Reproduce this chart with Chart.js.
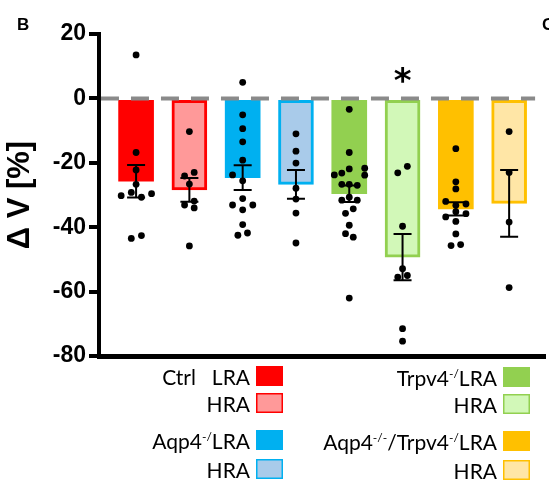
<!DOCTYPE html>
<html>
<head>
<meta charset="utf-8">
<script src="https://cdn.jsdelivr.net/npm/chart.js@4.4.1/dist/chart.umd.min.js"></script>
<style>
  body { margin: 0; background: #fff; }
  canvas { display: block; }
</style>
</head>
<body>
<canvas id="myChart" width="549" height="481"></canvas>
<script>
// groups, left to right
const groupNames = ["Ctrl LRA", "Ctrl HRA", "Aqp4-/- LRA", "Aqp4-/- HRA", "Trpv4-/- LRA", "Trpv4-/- HRA", "Aqp4-/-/Trpv4-/- LRA", "Aqp4-/-/Trpv4-/- HRA"];
const barMeans = [-25.7, -28.4, -24.6, -26.7, -29.6, -49.3, -34.3, -32.6];
const barSem = [5.05, 3.7, 3.85, 4.5, 2.55, 7.2, 2.05, 10.4];
const yTicks = [20, 0, -20, -40, -60, -80];

// individual points (ΔV %) and their sideways jitter (in category units)
const dotsCtrlLRA = [13.5, -16.8, -22.2, -26.7, -30.2, -29.2, -30.7, -29.6, -43.5, -42.6];
const jitCtrlLRA = [0, 0, 0, 0, -0.28, -0.09, 0.1, 0.29, -0.09, 0.1];
const dotsCtrlHRA = [-10.3, -24.1, -23.0, -26.6, -31.9, -33.1, -34.0, -45.8];
const jitCtrlHRA = [0, -0.09, 0.09, 0, 0.09, -0.09, 0.09, 0];
const dotsAqpLRA = [5.0, -5.1, -9.4, -13.5, -19.2, -23.75, -25.6, -31.1, -33.1, -33.1, -34.6, -39.2, -42.5, -41.8];
const jitAqpLRA = [0, 0, 0, 0, 0, -0.19, 0, 0, -0.19, 0.19, 0, 0, -0.09, 0.09];
const dotsAqpHRA = [-11.0, -16.4, -20.1, -27.9, -31.25, -35.6, -44.9];
const jitAqpHRA = [0, 0, 0, 0, 0, 0, 0];
const dotsTrpLRA = [-3.4, -16.8, -23.75, -23.2, -21.9, -21.7, -23.85, -26.7, -26.7, -27.0, -31.6, -30.7, -31.6, -35.7, -34.3, -39.4, -42.0, -43.1, -62.0];
const jitTrpLRA = [0, 0, -0.28, -0.14, 0, 0.29, 0.29, -0.14, 0, 0.15, -0.14, 0, 0.15, -0.07, 0.075, 0, -0.07, 0.075, 0];
const dotsTrpHRA = [-23.1, -21.1, -39.7, -52.9, -55.5, -55.0, -71.5, -75.4];
const jitTrpHRA = [-0.09, 0.09, 0, 0, -0.09, 0.09, 0, 0];
const dotsDkoLRA = [-15.6, -25.9, -28.1, -32.0, -32.8, -33.2, -35.2, -36.8, -35.8, -38.2, -42.1, -45.7, -45.4];
const jitDkoLRA = [0, 0, 0, -0.19, 0.19, 0, 0, -0.19, 0.19, 0, 0, -0.09, 0.09];
const dotsDkoHRA = [-10.3, -23.0, -38.4, -58.75];
const jitDkoHRA = [0, 0, 0, 0];

const significant = [false, false, false, false, false, true, false, false];

const fillColors = ["#FF0000", "#FF9999", "#00B0F0", "#A9CBEA", "#92D050", "#D2F8B8", "#FFC000", "#FFE6A6"];
const edgeColors = ["#FF0000", "#FF0000", "#00B0F0", "#00B0F0", "#92D050", "#92D050", "#FFC000", "#FFC000"];

// legend text pieces: [text, isSuperscript]
const legendParts = [
  [["Ctrl", false], ["\u2002 LRA", false]],
  [["HRA", false]],
  [["Aqp4", false], ["-/", true], ["LRA", false]],
  [["HRA", false]],
  [["Trpv4", false], ["-/", true], ["LRA", false]],
  [["HRA", false]],
  [["Aqp4", false], ["-/-", true], ["/Trpv4", false], ["-/", true], ["LRA", false]],
  [["HRA", false]],
];

const allDots = [dotsCtrlLRA, dotsCtrlHRA, dotsAqpLRA, dotsAqpHRA, dotsTrpLRA, dotsTrpHRA, dotsDkoLRA, dotsDkoHRA];
const allJit = [jitCtrlLRA, jitCtrlHRA, jitAqpLRA, jitAqpHRA, jitTrpLRA, jitTrpHRA, jitDkoLRA, jitDkoHRA];

const barPoints = barMeans.map((m, i) => ({ x: i + 1, y: m }));
const dotPoints = allDots.flatMap((vals, i) =>
  vals.map((v, j) => ({ x: i + 1 + allJit[i][j], y: v }))
);
const zeroLine = [{ x: 0.341, y: 0 }, { x: 8.487, y: 0 }];

const extrasPlugin = {
  id: "extras",
  afterDatasetsDraw(chart) {
    const ctx = chart.ctx;
    const xs = chart.scales.x;
    const ys = chart.scales.y;
    ctx.save();
    // error bars (mean ± SEM)
    ctx.strokeStyle = "#000";
    ctx.lineWidth = 2;
    barMeans.forEach((m, i) => {
      const px = xs.getPixelForValue(i + 1);
      const top = ys.getPixelForValue(m + barSem[i]);
      const bot = ys.getPixelForValue(m - barSem[i]);
      ctx.beginPath();
      ctx.moveTo(px, top);
      ctx.lineTo(px, bot);
      ctx.moveTo(px - 9, top);
      ctx.lineTo(px + 9, top);
      ctx.moveTo(px - 9, bot);
      ctx.lineTo(px + 9, bot);
      ctx.stroke();
    });
    // significance star
    ctx.fillStyle = "#000";
    ctx.font = "bold 34px 'DejaVu Sans'";
    ctx.textAlign = "center";
    ctx.textBaseline = "middle";
    significant.forEach((s, i) => {
      if (s) ctx.fillText("*", xs.getPixelForValue(i + 1), ys.getPixelForValue(0) - 15);
    });
    ctx.restore();
  },
  afterDraw(chart) {
    const ctx = chart.ctx;
    ctx.save();
    ctx.fillStyle = "#000";
    ctx.font = "bold 17px 'Liberation Sans'";
    ctx.textAlign = "left";
    ctx.textBaseline = "alphabetic";
    ctx.fillText("B", 17, 30);
    ctx.fillText("C", 542, 30);

    // legend, two columns of four rows
    const rowTops = [366, 393, 430, 459];
    const colBox = [256, 503];
    legendParts.forEach((parts, i) => {
      const col = i < 4 ? 0 : 1;
      const row = i % 4;
      const bx = colBox[col];
      const by = rowTops[row] + col;
      ctx.fillStyle = fillColors[i];
      ctx.fillRect(bx, by, 27, 20);
      if (i % 2 === 1) {
        ctx.strokeStyle = edgeColors[i];
        ctx.lineWidth = 1.5;
        ctx.strokeRect(bx + 0.75, by + 0.75, 25.5, 18.5);
      }
      const normalFont = "21px Lato";
      const supFont = "12px Lato";
      let total = 0;
      parts.forEach(([t, sup]) => {
        ctx.font = sup ? supFont : normalFont;
        total += ctx.measureText(t).width;
      });
      let tx = bx - 6 - total;
      const base = by + 19;
      ctx.fillStyle = "#000";
      ctx.textAlign = "left";
      parts.forEach(([t, sup]) => {
        ctx.font = sup ? supFont : normalFont;
        ctx.fillText(t, tx, sup ? base - 8 : base);
        tx += ctx.measureText(t).width;
      });
    });
    ctx.restore();
  },
};

new Chart(document.getElementById("myChart"), {
  type: "bar",
  data: {
    datasets: [
      {
        type: "scatter",
        label: "points",
        data: dotPoints,
        backgroundColor: "#000",
        borderWidth: 0,
        pointRadius: 3.4,
        showLine: false,
        order: 0,
      },
      {
        type: "line",
        label: "zero",
        data: zeroLine,
        borderColor: "#8a8a8a",
        borderWidth: 4,
        borderDash: [18, 12],
        borderCapStyle: "butt",
        pointRadius: 0,
        fill: false,
        order: 1,
      },
      {
        label: "mean",
        data: barPoints,
        backgroundColor: fillColors,
        borderColor: edgeColors,
        borderWidth: [0, 3, 0, 3, 0, 3, 0, 3],
        borderSkipped: false,
        barThickness: 35,
        order: 2,
      },
    ],
  },
  options: {
    responsive: false,
    animation: false,
    devicePixelRatio: 1,
    layout: { padding: { top: 34, left: 0, right: 0, bottom: 125 } },
    plugins: { legend: { display: false }, tooltip: { enabled: false } },
    scales: {
      x: {
        type: "linear",
        offset: false,
        min: 0.304,
        max: 8.673,
        ticks: { display: false },
        grid: { display: true, offset: false, drawOnChartArea: false, drawTicks: false },
        border: { display: true, color: "#000", width: 5 },
        afterFit: (scale) => { scale.height = 0; },
      },
      y: {
        min: -80,
        max: 20,
        afterBuildTicks: (scale) => { scale.ticks = yTicks.map((v) => ({ value: v })); },
        ticks: {
          color: "#000",
          padding: 3,
          font: { family: "'Liberation Sans'", weight: "bold", size: 23 },
        },
        grid: { drawOnChartArea: false, tickLength: 10, color: "#000", lineWidth: 4 },
        border: { color: "#000", width: 4 },
        title: {
          display: true,
          text: "Δ V [%]",
          color: "#000",
          font: { family: "'Liberation Sans'", weight: "bold", size: 31, lineHeight: 1 },
          padding: { top: 5, bottom: 0 },
        },
        afterFit: (scale) => { scale.width = 99; },
      },
    },
  },
  plugins: [extrasPlugin],
});
</script>
</body>
</html>
